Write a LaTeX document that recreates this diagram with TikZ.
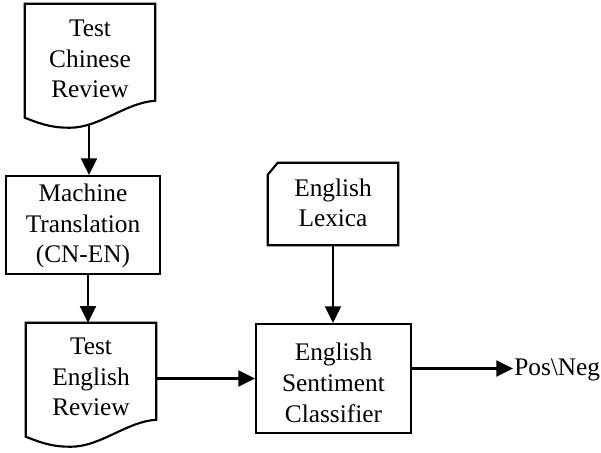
\documentclass[tikz,border=0pt]{standalone}
\usepackage{fontspec}
\setmainfont{Liberation Serif}
\usetikzlibrary{calc,arrows.meta}
\newcommand\drawdocshape[1]{%
  \draw[ln] (#1.north west) -- (#1.north east) -- ($(#1.north east)+(0,97)$)
    .. controls ($(#1.north east)+(-30,99)$) and ($(#1.north west)+(75,124)$) .. ($(#1.north west)+(45,124)$)
    .. controls ($(#1.north west)+(30,124)$) and ($(#1.north west)+(20,122)$) .. ($(#1.north west)+(0,114)$) -- cycle;}
\begin{document}
\begin{tikzpicture}[x=0.75pt,y=-0.75pt,
  ln/.style={line width=1.6pt},
  arr/.style={ln,-{Triangle[length=12.5pt,width=12pt]}},
  txt/.style={align=center,font=\fontsize{19}{23}\selectfont,inner sep=0pt},
  boxn/.style={draw,ln,inner sep=0pt},
  area/.style={inner sep=0pt}]
\useasboundingbox (0,0) rectangle (601,453);
% document 1
\node[area,minimum width=97.5pt,minimum height=90.75pt] (doc1) at (90,64.5) {};
\drawdocshape{doc1}
\node[txt] (doc1t) at (90,59) {Test\\Chinese\\Review};
% machine translation
\node[boxn,minimum width=115.5pt,minimum height=73.5pt] (mt) at (83,225) {};
\node[txt] (mtt) at (83,226) {Machine\\Translation\\(CN-EN)};
% document 2
\node[area,minimum width=97.5pt,minimum height=90.75pt] (doc2) at (91,383.5) {};
\drawdocshape{doc2}
\node[txt] (doc2t) at (91,377) {Test\\English\\Review};
% lexica
\node[area,minimum width=97.5pt,minimum height=61.5pt] (lex) at (333,204) {};
\draw[ln] ($(lex.north west)+(10,0)$) -- (lex.north east) -- (lex.south east) -- (lex.south west) -- ($(lex.north west)+(0,12)$) -- cycle;
\node[txt] (lext) at (333,203) {English\\Lexica};
% classifier
\node[boxn,minimum width=116.25pt,minimum height=81.75pt] (cls) at (333.5,378.5) {};
\node[txt] (clst) at (333.5,383) {English\\Sentiment\\Classifier};
% output
\coordinate (outs) at ($(cls.east)+(0,-10)$);
\coordinate (oute) at (513,368.5);
\node[txt,anchor=west] (pn) at (514,370) {Pos\textbackslash Neg};
% connectors
\draw[arr] ($(doc1.south)+(-1,0)$) -- ($(doc1.south |- mt.north)+(-1,0)$);
\draw[arr] ($(mt.south -| doc1.south)+(-2,0)$) -- ($(doc2.north -| doc1.south)+(-2,0)$);
\draw[arr] (doc2.east |- cls.west) -- (cls.west);
\draw[arr] (lex.south) -- (lex.south |- cls.north);
\draw[arr] (outs) -- (oute);
\end{tikzpicture}
\end{document}
